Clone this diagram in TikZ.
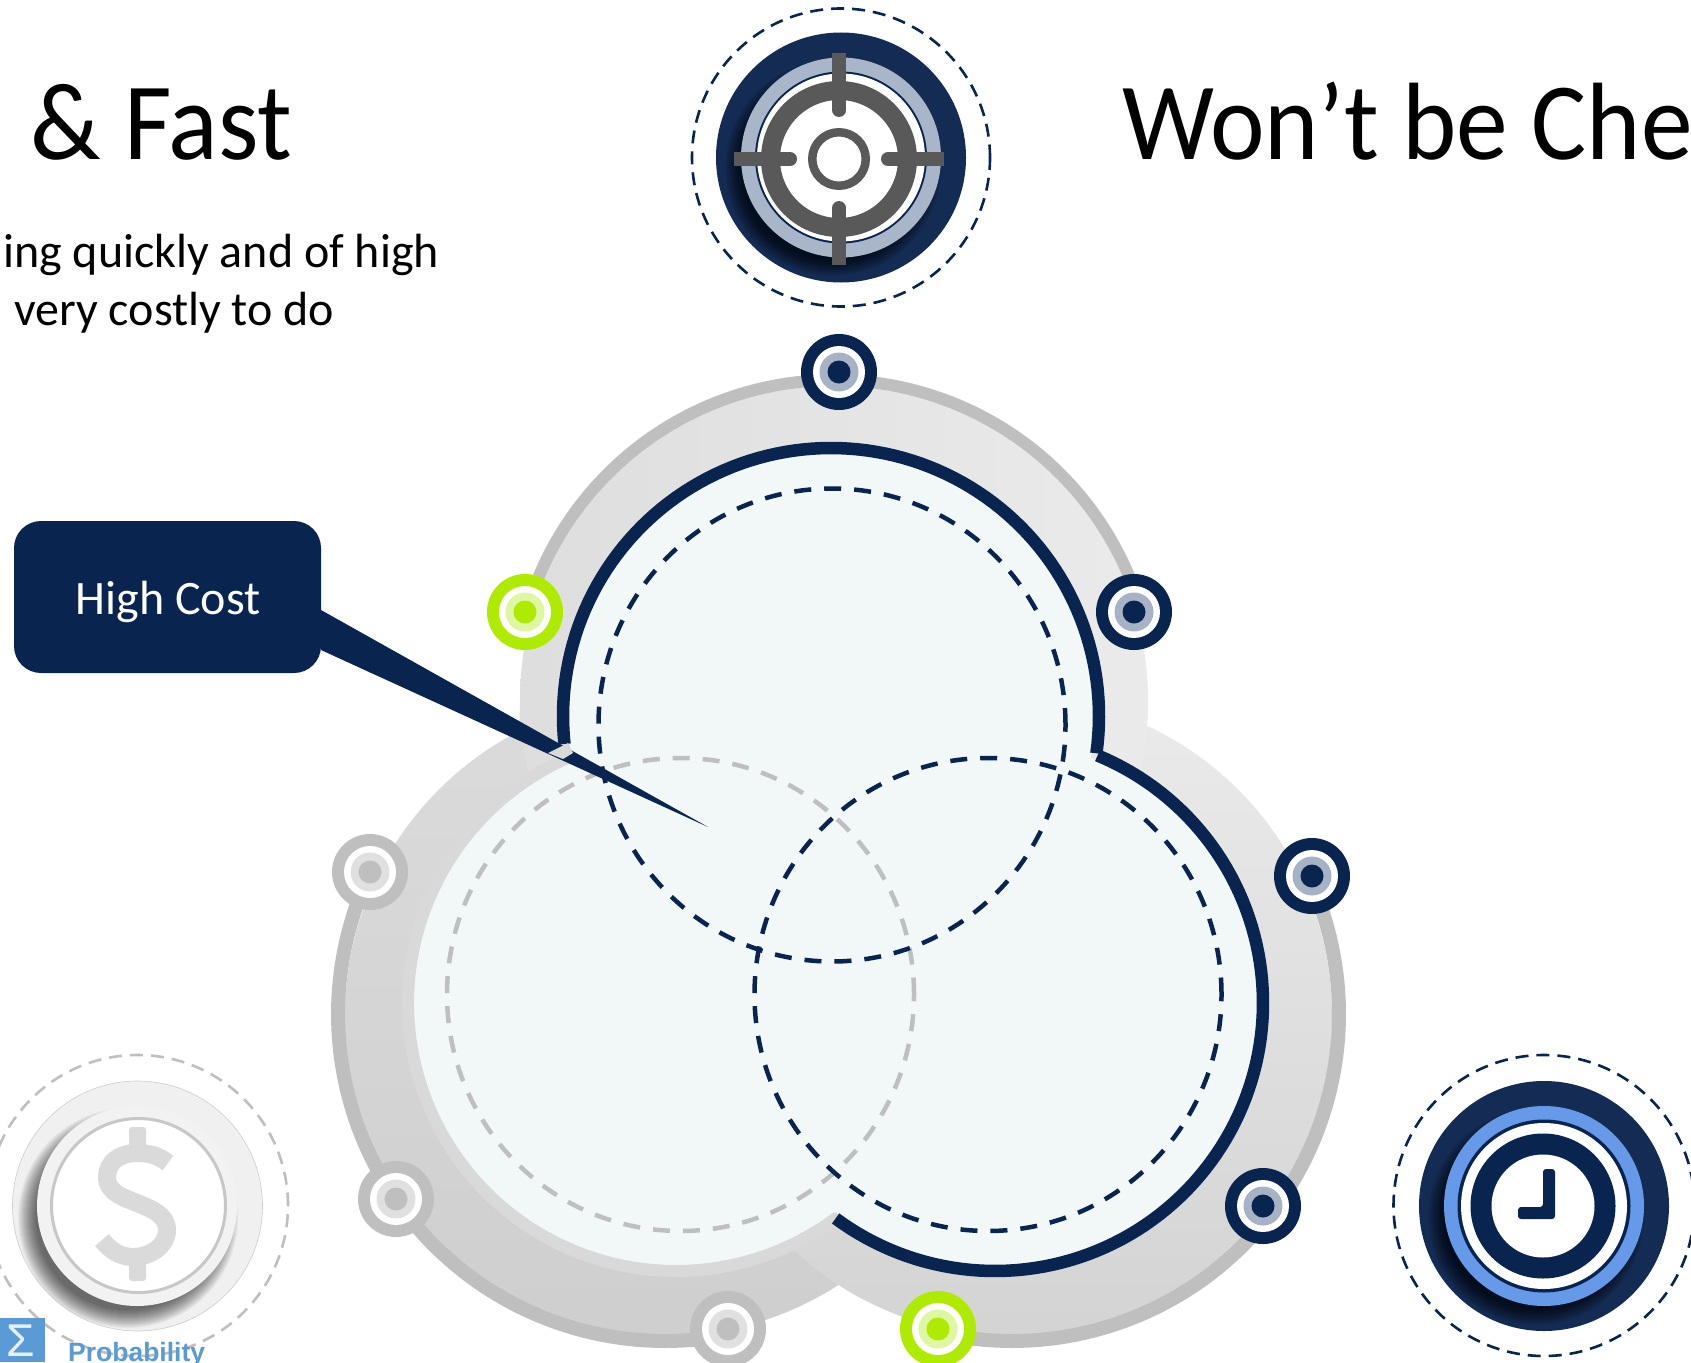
\documentclass[tikz,border=0pt]{standalone}
\usepackage{fontspec}
\setmainfont{Carlito}
\newfontfamily\arialfont{Liberation Sans}
\newfontfamily\bigfont[FakeStretch=0.94]{Carlito}
\definecolor{navy}{HTML}{08244F}
\definecolor{iconnavy}{HTML}{142C54}
\definecolor{navymid}{HTML}{A7B2C5}
\definecolor{limeg}{HTML}{AEEB00}
\definecolor{limemid}{HTML}{DFF6A3}
\definecolor{rimgray}{HTML}{BFBFBF}
\definecolor{graymid}{HTML}{E0E0E0}
\definecolor{paleblue}{HTML}{F2F7F8}
\definecolor{ringblue}{HTML}{6699E8}
\definecolor{steel}{HTML}{A9B5C8}
\definecolor{crossgray}{HTML}{595959}
\definecolor{logoblue}{HTML}{5B9BD5}
\tikzset{
  rimline/.style={draw=rimgray,line width=14pt},
  navyarc/.style={draw=navy,line width=12.5pt},
  venndash/.style={line width=4.5pt,dash pattern=on 17pt off 13pt},
  icondash/.style={line width=2.6pt,dash pattern=on 13pt off 8pt},
  bigtext/.style={font=\bigfont\fontsize{110}{120}\selectfont,anchor=base west,inner sep=0pt},
  bodytext/.style={font=\fontsize{48}{52}\selectfont,anchor=base west,inner sep=0pt},
}
\newcommand\markerdot[5]{%
  \fill[#3] (#1,#2) circle[radius=38pt];
  \fill[white] (#1,#2) circle[radius=26pt];
  \fill[#4] (#1,#2) circle[radius=19.5pt];
  \fill[#5] (#1,#2) circle[radius=11.5pt];}
\newcommand\softshadow[5]{%
  \foreach \rr in {#3,...,#4}{\fill[black,opacity=#5] (#1,#2) circle[radius=\rr pt];}}
\begin{document}
\begin{tikzpicture}[x=1pt,y=-1pt]
\useasboundingbox (0,0) rectangle (1691,1362);
\clip (0,0) rectangle (1691,1362);
\fill[white] (0,0) rectangle (1691,1362);

% titles
\node[bigtext] (fast) at (30,160) {\& Fast};
\node[bigtext] (wont) at (1122,160) {Won’t be Che};
\node[bodytext] (body1) at (3,267) {ing quickly and of high};
\node[bodytext] (body2) at (14,325) {very costly to do};

% outer band
\shade[top color=white!86!black,bottom color=white!81!black] (665,1016) circle[radius=320pt];
\fill[white!87!black] (520,700) -- (519,742) -- (700,800) -- cycle;
\shade[top color=white!92!black,middle color=white!91!black,bottom color=white!83!black] (1012,1016) circle[radius=320pt];
\fill[white!92!black] (1148,700) -- (1147,733) -- (1000,800) -- cycle;
\shade[left color=white!87!black,right color=white!92!black] (834,700) circle[radius=314pt];
% rims
\draw[rimline,line width=12pt] plot[domain=195.9:343.7,samples=80,variable=\t] ({834+320*cos(\t)},{700+320*sin(\t)});
\draw[rimline] plot[domain=-24.9:103,samples=80,variable=\t] ({1012+327*cos(\t)},{1014+327*sin(\t)});
\draw[rimline] plot[domain=78.7:205.7,samples=80,variable=\t] ({665+327*cos(\t)},{1014+327*sin(\t)});

% pale discs
\fill[paleblue] (831,716) circle[radius=263pt];
\fill[paleblue] (676,1003) circle[radius=263pt];
\fill[paleblue] (995,1003) circle[radius=263pt];
% rings
\draw[draw=white!85!black,line width=12pt] plot[domain=53:247,samples=100,variable=\t] ({676+268*cos(\t)},{1003+268*sin(\t)});
\draw[navyarc] plot[domain=174:368,samples=100,variable=\t] ({831+268*cos(\t)},{716+268*sin(\t)});
\draw[navyarc] plot[domain=-67.5:126.5,samples=100,variable=\t] ({995+268*cos(\t)},{1003+268*sin(\t)});
% dashed venn
\draw[venndash,rimgray] (680.5,994.5) circle[x radius=233.5pt,y radius=236.5pt];
\draw[venndash,navy] (832,725) circle[x radius=233.5pt,y radius=236.5pt];
\draw[venndash,navy] (988,994.5) circle[x radius=233.5pt,y radius=236.5pt];

% callout
\coordinate (wedgeA) at (321,610);
\coordinate (wedgeB) at (321,650);
\coordinate (wedgeTip) at (708,827);
\fill[navy] (wedgeA) -- (wedgeTip) -- (wedgeB) -- cycle;
\fill[white!85!black] (548,753) -- (568,743) -- (573,753) -- (563,759) -- cycle;
\node[fill=navy,text=white,rounded corners=27pt,minimum width=307pt,minimum height=152pt,inner sep=0pt] (callout) at (167.5,597) {};
\node[text=white,inner sep=0pt,anchor=base,font=\fontsize{48}{52}\selectfont] (calloutlabel) at (168,614) {High Cost};

% marker dots
\markerdot{839}{372}{navy}{navymid}{navy}
\markerdot{1134}{612}{navy}{navymid}{navy}
\markerdot{1312}{876}{navy}{navymid}{navy}
\markerdot{1263}{1206}{navy}{navymid}{navy}
\markerdot{525}{612}{limeg}{limemid}{limeg}
\markerdot{938}{1329}{limeg}{limemid}{limeg}
\markerdot{370}{872}{rimgray}{graymid}{rimgray}
\markerdot{396}{1199}{rimgray}{graymid}{rimgray}
\markerdot{728}{1329}{rimgray}{graymid}{rimgray}

% target icon
\draw[icondash,navy] (841,157.5) circle[radius=149pt];
\fill[iconnavy] (841,157.5) circle[radius=125pt];
\begin{scope}
  \clip (841,157.5) circle[radius=125pt];
  \softshadow{833}{168}{92}{108}{0.05}
\end{scope}
\fill[steel] (841,157.5) circle[radius=100pt];
\fill[navy] (841,157.5) circle[radius=86pt];
\fill[white] (841,157.5) circle[radius=84pt];
\draw[crossgray,line width=19pt] (839,159) circle[radius=68.5pt];
\draw[crossgray,line width=8.5pt] (839,159) circle[radius=26.75pt];
\draw[crossgray,line width=14pt] (839,53) -- (839,110);
\draw[crossgray,line width=14pt] (839,265) -- (839,208);
\draw[crossgray,line width=14pt] (734,159) -- (790,159);
\draw[crossgray,line width=14pt] (944,159) -- (888,159);
\fill[crossgray] (839,110) circle[radius=7pt] (839,208) circle[radius=7pt] (790,159) circle[radius=7pt] (888,159) circle[radius=7pt];

% clock icon
\draw[icondash,navy] (1544,1205.5) circle[radius=150.5pt];
\fill[iconnavy] (1544,1206) circle[radius=125pt];
\begin{scope}
  \clip (1544,1206) circle[radius=125pt];
  \softshadow{1536}{1217}{92}{108}{0.05}
\end{scope}
\fill[ringblue] (1544,1206) circle[radius=100pt];
\fill[navy] (1544,1206) circle[radius=86.5pt];
\fill[white] (1544,1206) circle[radius=83pt];
\fill[navy] (1543,1206) circle[radius=72.5pt];
\fill[white] (1543,1206) circle[radius=51.5pt];
\fill[navy,rounded corners=3pt] (1543,1169) -- (1555,1169) -- (1555,1219) -- (1518,1219) -- (1518,1207) -- (1543,1207) -- cycle;

% dollar icon
\draw[icondash,rimgray] (137.5,1205.5) circle[radius=150.5pt];
\fill[white!94!black] (137.5,1206) circle[radius=125pt];
\draw[white!80!black,line width=0.6pt] (137.5,1206) circle[radius=125pt];
\begin{scope}
  \clip (137.5,1206) circle[radius=125pt];
  \softshadow{128}{1218}{92}{110}{0.04}
\end{scope}
\fill[white!95!black] (137,1206) circle[radius=100pt];
\fill[white] (138.5,1205.5) circle[radius=87pt];
\draw[white!78!black,line width=3pt] (138.5,1205.5) circle[radius=87pt];
\draw[white!85.5!black,line width=18pt] (168,1163) .. controls (158,1155) and (148,1153) .. (137,1153) .. controls (120,1153) and (107,1162) .. (107,1177) .. controls (107,1192) and (122,1197) .. (137,1203) .. controls (152,1209) and (167,1215) .. (167,1230) .. controls (167,1246) and (150,1257) .. (133,1257) .. controls (120,1257) and (110,1250) .. (102,1240);
\fill[white!85.5!black,rounded corners=3pt] (129,1127) rectangle (146,1160);
\fill[white!85.5!black,rounded corners=3pt] (129,1248) rectangle (146,1281);

% logo
\fill[logoblue] (0,1318) rectangle (45,1362);
\node[font=\arialfont\fontsize{46}{50}\selectfont,text=white!85!logoblue,anchor=base,inner sep=0pt] (sigma) at (21,1356) {Σ};
\node[font=\arialfont\bfseries\fontsize{26.5}{30}\selectfont,text=logoblue,anchor=base west,inner sep=0pt] (prob) at (68,1361) {Probability};
\end{tikzpicture}
\end{document}
